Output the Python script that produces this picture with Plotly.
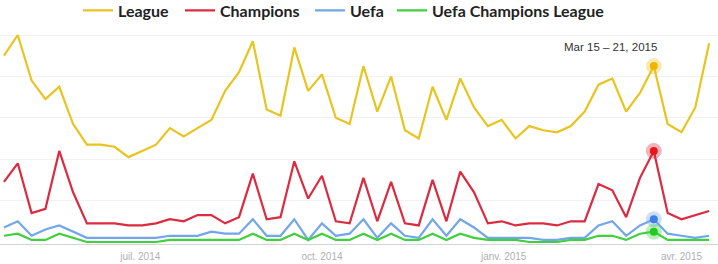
import plotly.graph_objects as go
import pandas as pd

# Weekly data (Google Trends style), weeks Apr 20-26 2014 .. Apr 12-18 2015
week_starts = pd.date_range("2014-04-20", periods=52, freq="7D")
week_mids = week_starts + pd.Timedelta(days=3)

league = [90, 100, 78, 69, 75, 57, 47, 47, 46, 41, 44, 47, 55,
          51, 55, 59, 73, 82, 97, 64, 61, 94, 73, 81, 60, 57,
          85, 63, 80, 54, 50, 75, 59, 79, 65, 56, 59, 50, 56,
          54, 53, 56, 63, 76, 79, 63, 72, 85, 57, 53, 65, 96]
champions = [29, 38, 14, 16, 44, 24, 9, 9, 9, 8, 8, 9, 11,
             10, 13, 13, 9, 12, 33, 11, 12, 39, 21, 32, 10, 9,
             31, 10, 29, 9, 8, 30, 10, 34, 24, 9, 10, 8, 9,
             9, 8, 10, 10, 28, 25, 12, 31, 44, 14, 11, 13, 15]
uefa = [7, 10, 3, 6, 8, 5, 2, 2, 2, 2, 2, 2, 3,
        3, 3, 5, 4, 4, 11, 3, 3, 11, 1, 9, 3, 4,
        11, 2, 9, 3, 2, 11, 3, 11, 7, 2, 2, 2, 2,
        1, 1, 2, 2, 8, 10, 3, 8, 11, 4, 3, 2, 3]
ucl = [3, 4, 1, 1, 4, 2, 0, 0, 0, 0, 0, 0, 1,
       1, 1, 1, 1, 1, 4, 1, 1, 4, 1, 4, 1, 1,
       4, 1, 4, 1, 1, 4, 1, 4, 2, 1, 1, 1, 0,
       0, 0, 1, 1, 3, 3, 1, 4, 5, 1, 1, 1, 1]

series_names = ["League", "Champions", "Uefa", "Uefa Champions League"]
series_values = [league, champions, uefa, ucl]
line_colors = ["#e8c420", "#dc2a40", "#72a6ea", "#3fcf3f"]
dot_colors = ["#f2b300", "#e8141e", "#3b80ea", "#1fcc22"]

highlight_idx = 47
highlight_label = "Mar 15 \u2013 21, 2015"

tick_dates = ["2014-07-01", "2014-10-01", "2015-01-01", "2015-04-01"]
tick_labels = ["juil. 2014", "oct. 2014", "janv. 2015", "avr. 2015"]

W, H = 718, 264
legend_x_px = [78, 180, 310, 392]
legend_ids = ["legend", "legend2", "legend3", "legend4"]

fig = go.Figure()
for name, vals, col, lid in zip(series_names, series_values, line_colors, legend_ids):
    fig.add_trace(go.Scatter(x=week_mids, y=vals, mode="lines", name=name, legend=lid,
                             line=dict(color=col, width=2.2), hoverinfo="skip"))

for vals, col, dcol in zip(series_values, line_colors, dot_colors):
    fig.add_trace(go.Scatter(x=[week_mids[highlight_idx]], y=[vals[highlight_idx]],
                             mode="markers", showlegend=False, hoverinfo="skip",
                             marker=dict(size=15, color=col, opacity=0.35,
                                         line=dict(color=col, width=1))))
    fig.add_trace(go.Scatter(x=[week_mids[highlight_idx]], y=[vals[highlight_idx]],
                             mode="markers", showlegend=False, hoverinfo="skip",
                             marker=dict(size=8, color=dcol)))

fig.add_annotation(x=week_mids[highlight_idx], y=league[highlight_idx], xref="x", yref="y",
                   text=highlight_label, showarrow=False, xshift=-43, yshift=19,
                   font=dict(family="Liberation Sans, Arial", size=11.5, color="#333333"))

legend_common = dict(orientation="h", xanchor="left", y=1.066, yanchor="middle",
                     font=dict(family="Lato", size=16, color="#222222", weight="bold"),
                     bgcolor="rgba(0,0,0,0)", itemclick=False, itemdoubleclick=False)

layout_legends = {lid: dict(x=px / W, **legend_common) for lid, px in zip(legend_ids, legend_x_px)}

fig.update_layout(
    width=W, height=H,
    margin=dict(l=0, r=0, t=25, b=20, autoexpand=False),
    paper_bgcolor="white", plot_bgcolor="white",
    showlegend=True,
    xaxis=dict(type="date", range=["2014-04-21", "2015-04-19 12:00"],
               tickvals=tick_dates, ticktext=tick_labels,
               tickfont=dict(family="Liberation Sans, Arial", size=10, color="#b0b0b0"),
               ticklabelstandoff=3, automargin=False,
               showgrid=False, showline=True, linecolor="#d4d4d4", linewidth=1,
               ticks="", zeroline=False, fixedrange=True),
    yaxis=dict(range=[-0.97, 104.83], tickvals=[20, 40, 60, 80, 100],
               showticklabels=False, showgrid=True, gridcolor="#f2f2f2", gridwidth=1,
               zeroline=False, fixedrange=True, automargin=False),
    **layout_legends,
)

fig.write_html("out.html")
